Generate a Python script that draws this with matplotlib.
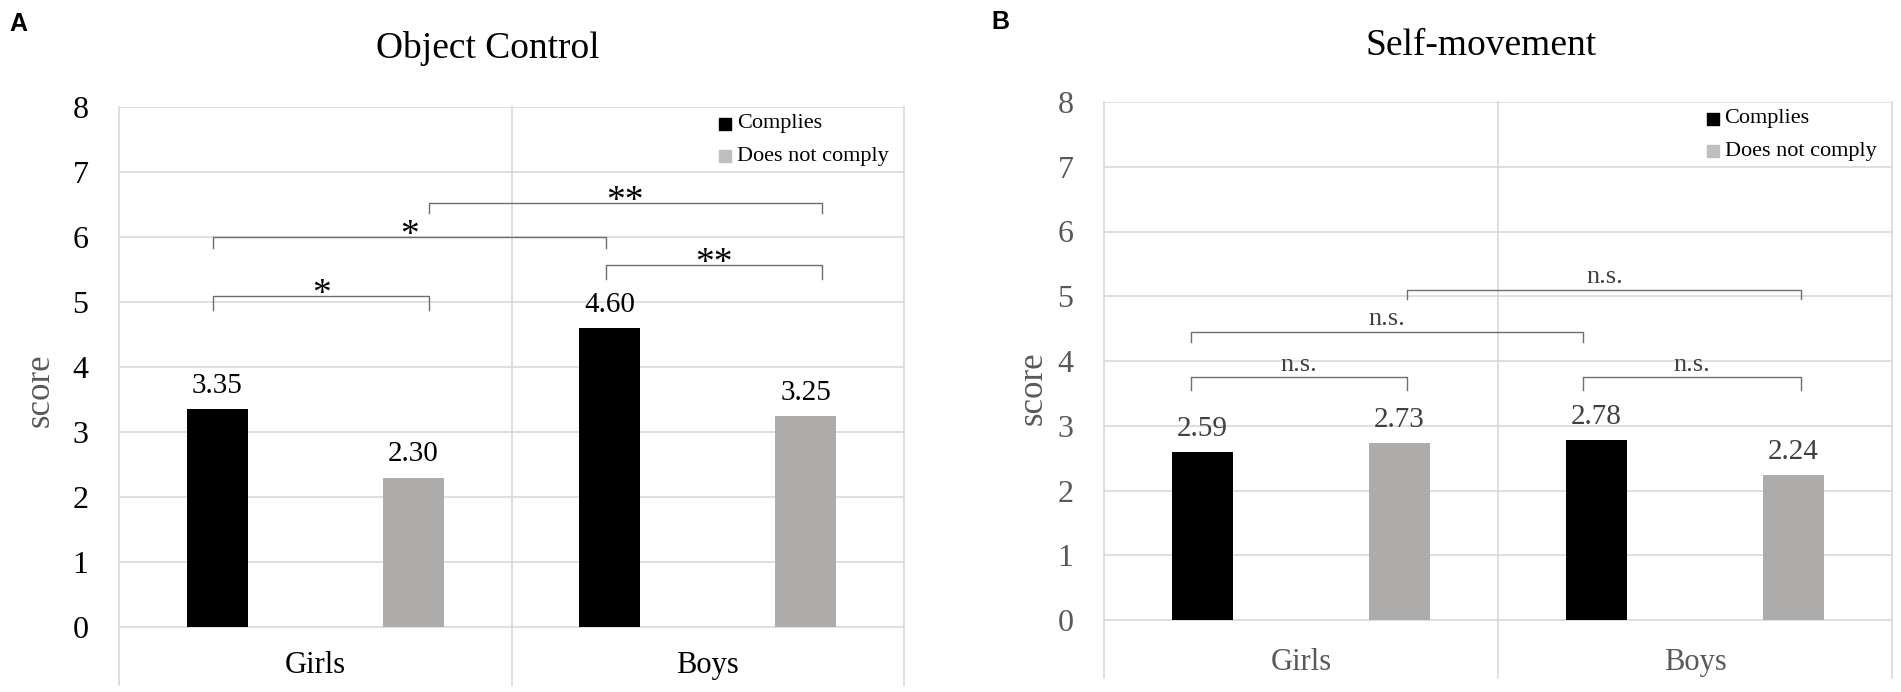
import matplotlib
matplotlib.use('Agg')
import matplotlib.pyplot as plt

groups = ['Girls', 'Boys']
series = ['Complies', 'Does not comply']
obj_complies = [3.35, 4.60]
obj_not_comply = [2.30, 3.25]
self_complies = [2.59, 2.78]
self_not_comply = [2.73, 2.24]

# significance brackets: (x from, x to, height, tick depth, label)
obj_brackets = [(-0.26, 0.29, 5.09, 0.21, '*'),
                (-0.26, 0.74, 6.00, 0.17, '*'),
                (0.74, 1.29, 5.57, 0.22, '**'),
                (0.29, 1.29, 6.52, 0.15, '**')]
self_brackets = [(-0.28, 0.27, 3.75, 0.20, 'n.s.'),
                 (0.716, 1.27, 3.75, 0.20, 'n.s.'),
                 (-0.28, 0.716, 4.45, 0.15, 'n.s.'),
                 (0.27, 1.27, 5.10, 0.15, 'n.s.')]

plt.rcParams['font.family'] = ['Liberation Serif', 'DejaVu Serif']

W, H = 1901, 692
fig = plt.figure(figsize=(W / 100, H / 100), dpi=100)

GRID = '#d9d9d9'
BAR_GRAY = '#aeabab'
BRACKET = '#6e6e6e'


def panel(rect, ybot, complies, not_comply, brackets, text_color, lbl_color, cat_y):
    ax = fig.add_axes(rect)
    ax.set_xlim(-0.5, 1.5)
    ax.set_ylim(ybot, 8)
    for s in ax.spines.values():
        s.set_visible(False)
    for yv in range(9):
        ax.plot([-0.5, 1.5], [yv, yv], color=GRID, lw=1.2, zorder=0)
    for xv in (-0.5, 0.5, 1.5):
        ax.plot([xv, xv], [ybot, 8], color=GRID, lw=1.2, zorder=0, clip_on=False)
    xs = range(len(groups))
    w = 0.155
    b1 = ax.bar([x - 0.25 for x in xs], complies, w, color='black', zorder=2)
    b2 = ax.bar([x + 0.25 for x in xs], not_comply, w, color=BAR_GRAY, zorder=2)
    for bars, vals in ((b1, complies), (b2, not_comply)):
        for rect_, v in zip(bars, vals):
            ax.text(rect_.get_x() + rect_.get_width() / 2, v + 0.25, f'{v:.2f}',
                    ha='center', va='baseline', fontsize=21, color=lbl_color)
    ax.set_xticks([])
    ax.set_yticks(range(9))
    ax.tick_params(axis='y', length=0, pad=22, labelsize=23, labelcolor=text_color)
    for x, g in zip(xs, groups):
        ax.text(x, cat_y, g, ha='center', va='center', fontsize=22, color=text_color)
    for x1, x2, y, d, lab in brackets:
        ax.plot([x1, x1, x2, x2], [y - d, y, y, y - d], color=BRACKET, lw=1.0, zorder=3)
        if lab == 'n.s.':
            ax.text((x1 + x2) / 2, y + 0.1, lab, ha='center', va='baseline',
                    fontsize=19, color='#404040')
        else:
            ax.text((x1 + x2) / 2, y - 0.12, lab, ha='center', va='baseline',
                    fontsize=27, color='black')
    # legend
    ax.scatter([1.045], [7.74], marker='s', s=80, color='black', zorder=3)
    ax.scatter([1.045], [7.24], marker='s', s=80, color='#bfbfbf', zorder=3)
    ax.text(1.075, 7.74, series[0], ha='left', va='center', fontsize=16)
    ax.text(1.075, 7.24, series[1], ha='left', va='center', fontsize=16)
    return ax


# left panel: axis x 119..904, y(8)=107, y(0)=627, bottom 685
ax1 = panel([119 / W, (H - 685) / H, 785 / W, 578 / H], -58 / 65,
            obj_complies, obj_not_comply, obj_brackets, 'black', 'black', -0.59)
# right panel: axis x 1104..1892, y(8)=102, y(0)=620, bottom 678
ax2 = panel([1104 / W, (H - 678) / H, 788 / W, 576 / H], -58 / 64.75,
            self_complies, self_not_comply, self_brackets, '#595959', '#404040', -0.65)

fig.text(488 / W, 1 - 48 / H, 'Object Control', ha='center', va='center', fontsize=27)
fig.text(1481 / W, 1 - 46 / H, 'Self-movement', ha='center', va='center', fontsize=27)
fig.text(40 / W, 1 - 390 / H, 'score', rotation=90, ha='center', va='center',
         fontsize=25, color='#595959')
fig.text(1033 / W, 1 - 388 / H, 'score', rotation=90, ha='center', va='center',
         fontsize=25, color='#595959')
fig.text(18 / W, 1 - 24 / H, 'A', ha='center', va='center', fontsize=18,
         fontweight='bold', family='Liberation Sans')
fig.text(1000 / W, 1 - 22 / H, 'B', ha='center', va='center', fontsize=18,
         fontweight='bold', family='Liberation Sans')

fig.savefig('out.png', dpi=100)
